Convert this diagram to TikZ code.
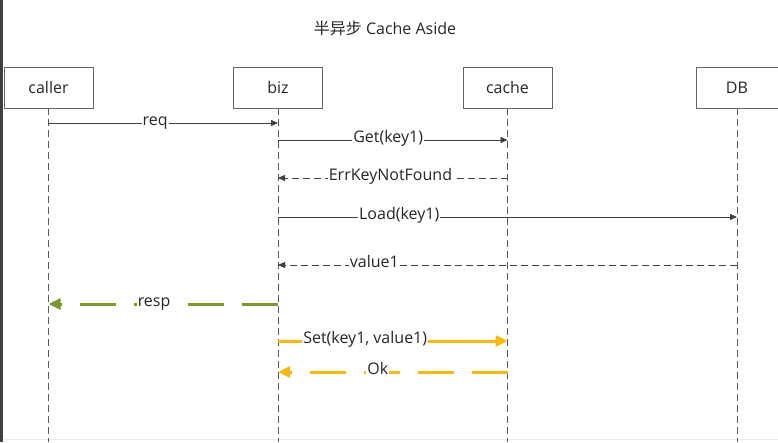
\documentclass[tikz,border=0pt]{standalone}
\usepackage{fontspec}
\setmainfont{Open Sans}
\newfontfamily\cjk{Noto Sans CJK SC}
\usepackage{tikz}
\usetikzlibrary{arrows.meta}
\definecolor{respgreen}{RGB}{122,154,40}
\definecolor{setyellow}{RGB}{255,184,0}
\definecolor{lifegray}{RGB}{90,90,90}
\newcommand{\figuresize}{1pt}
\newcommand{\sendmsg}[6]{
	\draw[#1] (#2 |- 0,#4) -- node[msglabel,pos=#6] {#5} (#3 |- 0,#4);
}

\begin{document}
\begin{tikzpicture}[x=\figuresize,y=-\figuresize,
	every node/.style={font=\fontsize{16pt}{19pt}\selectfont, text=black!85},
	actor/.style={draw=black!60, line width=0.8pt, minimum width=89pt, minimum height=41pt, inner sep=0pt},
	lifeline/.style={draw=lifegray, line width=0.9pt, dash pattern=on 7pt off 4pt},
	msglabel/.style={fill=white, anchor=mid, inner xsep=1pt, inner ysep=1pt},
	callmsg/.style={draw=black!75, line width=0.8pt, -{Triangle[length=7pt,width=6pt]}},
	retmsg/.style={callmsg, dash pattern=on 7pt off 4pt},
	respmsg/.style={draw=respgreen, line width=3pt, dash pattern=on 36pt off 18pt, -{Triangle[length=12pt,width=11pt]}},
	setmsg/.style={draw=setyellow, line width=3pt, -{Triangle[length=12pt,width=11pt]}},
	okmsg/.style={setmsg, dash pattern=on 36pt off 18pt}]
	\useasboundingbox (0,0) rectangle (778,442);
	\fill[black!75] (0,0) rectangle (3,442);
	\draw[black!8] (3,439.5) -- (778,439.5);

	\node (title) at (385,28) {{\cjk 半异步} Cache Aside};

	\node[actor] (caller) at (48.5,87.5) {caller};
	\node[actor] (biz) at (278,87.5) {biz};
	\node[actor] (cache) at (507.5,87.5) {cache};
	\node[actor, minimum width=82pt] (DB) at (737,87.5) {DB};

	\draw[lifeline] (caller.south) -- (caller |- 0,442);
	\draw[lifeline] (biz.south) -- (biz |- 0,442);
	\draw[lifeline] (cache.south) -- (cache |- 0,442);
	\draw[lifeline] (DB.south) -- (DB |- 0,442);

	\sendmsg{callmsg}{caller}{biz}{123}{req}{0.465}
	\sendmsg{callmsg}{biz}{cache}{140}{Get(key1)}{0.48}
	\sendmsg{retmsg}{cache}{biz}{178}{ErrKeyNotFound}{0.51}
	\sendmsg{callmsg}{biz}{DB}{217}{Load(key1)}{0.264}
	\sendmsg{retmsg}{DB}{biz}{265}{value1}{0.79}
	\sendmsg{respmsg}{biz}{caller}{304}{resp}{0.54}
	\sendmsg{setmsg}{biz}{cache}{341}{Set(key1, value1)}{0.38}
	\sendmsg{okmsg}{cache}{biz}{372}{Ok}{0.565}

\end{tikzpicture}
\end{document}
